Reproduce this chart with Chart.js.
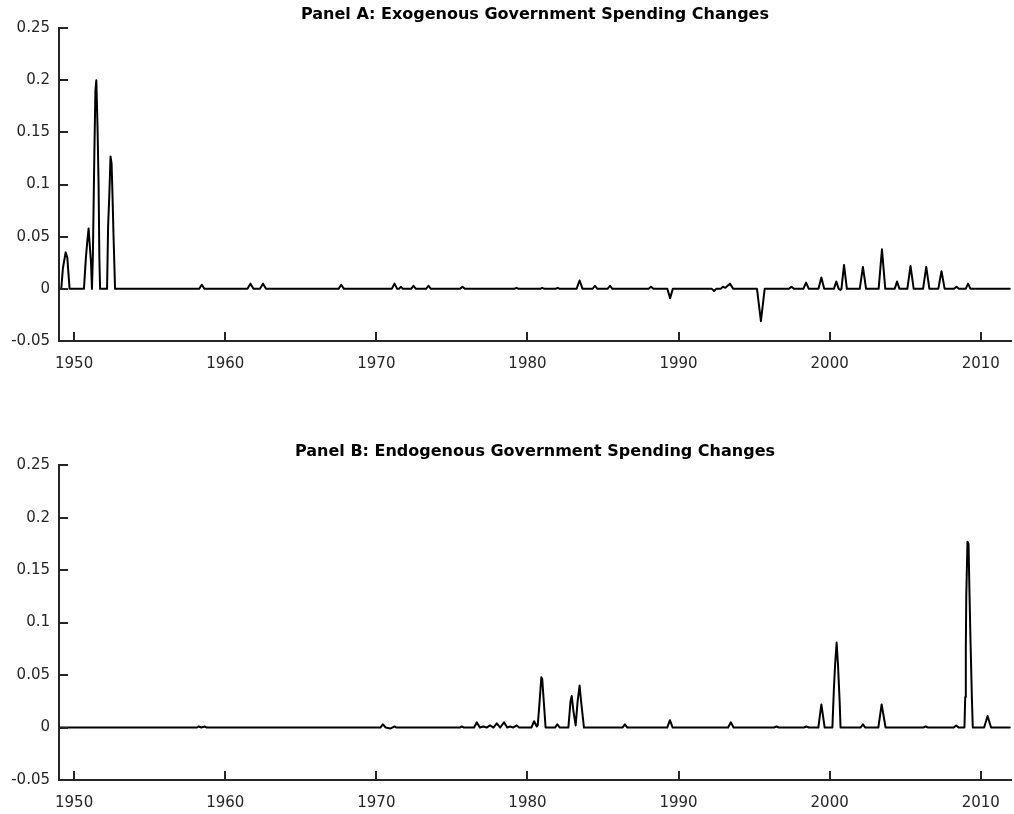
<!DOCTYPE html>
<html>
<head>
<meta charset="utf-8">
<script src="https://cdn.jsdelivr.net/npm/chart.js@4/dist/chart.umd.min.js"></script>
<style>
  html, body { margin: 0; padding: 0; background: #ffffff; }
  #wrap { position: relative; width: 1014px; height: 814px; }
  canvas { position: absolute; left: 0; }
  #ca { top: 0; }
  #cb { top: 437px; }
</style>
</head>
<body>
<div id="wrap">
  <canvas id="ca" width="1014" height="400"></canvas>
  <canvas id="cb" width="1014" height="377"></canvas>
</div>
<script>
// Axis ticks
const xTicks = [1950, 1960, 1970, 1980, 1990, 2000, 2010];
const yTicks = [-0.05, 0, 0.05, 0.1, 0.15, 0.2, 0.25];
const yTickLabels = ['-0.05', '0', '0.05', '0.1', '0.15', '0.2', '0.25'];

// Panel A: exogenous government spending changes (date, value) vertices
const exoDates = [
  1949.00, 1949.15, 1949.26, 1949.44, 1949.55, 1949.70,
  1950.65, 1950.78, 1950.87, 1950.96, 1951.02, 1951.12, 1951.18,
  1951.24, 1951.29, 1951.34, 1951.41, 1951.47, 1951.55, 1951.62, 1951.67, 1951.72,
  1952.18, 1952.25, 1952.33, 1952.41, 1952.48, 1952.54, 1952.61, 1952.71,
  1958.27, 1958.45, 1958.63,
  1961.47, 1961.67, 1961.87, 1962.30, 1962.50, 1962.70,
  1967.50, 1967.68, 1967.86,
  1971.02, 1971.20, 1971.38, 1971.50, 1971.62, 1971.76,
  1972.30, 1972.46, 1972.62, 1973.29, 1973.45, 1973.61,
  1975.54, 1975.70, 1975.86,
  1979.13, 1979.27, 1979.41, 1980.84, 1980.98, 1981.12, 1981.86, 1982.00, 1982.14,
  1983.25, 1983.45, 1983.65, 1984.31, 1984.47, 1984.63, 1985.30, 1985.46, 1985.62,
  1988.02, 1988.18, 1988.34, 1989.26, 1989.44, 1989.62,
  1992.21, 1992.35, 1992.49, 1992.79, 1992.93, 1993.10, 1993.40, 1993.62,
  1995.19, 1995.45, 1995.70,
  1997.31, 1997.47, 1997.63, 1998.26, 1998.44, 1998.62, 1999.26, 1999.45, 1999.64,
  2000.28, 2000.44, 2000.60, 2000.72, 2000.78, 2000.95, 2001.14,
  2001.99, 2002.20, 2002.41, 2003.24, 2003.46, 2003.68,
  2004.30, 2004.46, 2004.62, 2005.14, 2005.35, 2005.56,
  2006.18, 2006.39, 2006.60, 2007.19, 2007.40, 2007.61,
  2008.23, 2008.39, 2008.55, 2009.00, 2009.16, 2009.32,
  2011.92
];
const exoValues = [
  0, 0, 0.020, 0.035, 0.030, 0,
  0, 0.030, 0.045, 0.058, 0.045, 0.025, 0,
  0.030, 0.080, 0.130, 0.190, 0.200, 0.155, 0.100, 0.030, 0,
  0, 0.060, 0.090, 0.127, 0.120, 0.090, 0.050, 0,
  0, 0.004, 0,
  0, 0.005, 0, 0, 0.005, 0,
  0, 0.004, 0,
  0, 0.005, 0, 0, 0.002, 0,
  0, 0.003, 0, 0, 0.003, 0,
  0, 0.002, 0,
  0, 0.001, 0, 0, 0.001, 0, 0, 0.001, 0,
  0, 0.008, 0, 0, 0.003, 0, 0, 0.003, 0,
  0, 0.002, 0, 0, -0.009, 0,
  0, -0.002, 0, 0, 0.002, 0.001, 0.005, 0,
  0, -0.031, 0,
  0, 0.002, 0, 0, 0.006, 0, 0, 0.011, 0,
  0, 0.007, 0, -0.001, 0, 0.023, 0,
  0, 0.021, 0, 0, 0.038, 0,
  0, 0.007, 0, 0, 0.022, 0,
  0, 0.021, 0, 0, 0.017, 0,
  0, 0.002, 0, 0, 0.005, 0,
  0
];

// Panel B: endogenous government spending changes (date, value) vertices
const endoDates = [
  1949.00,
  1958.12, 1958.25, 1958.42, 1958.63, 1958.78,
  1970.27, 1970.43, 1970.62, 1970.92, 1971.05, 1971.20, 1971.34,
  1975.52, 1975.66, 1975.80,
  1976.47, 1976.65, 1976.85, 1977.09, 1977.30, 1977.53, 1977.75, 1977.97, 1978.20,
  1978.45, 1978.66, 1978.85, 1979.05, 1979.29, 1979.45,
  1980.26, 1980.44, 1980.62, 1980.68, 1980.78, 1980.92, 1980.98, 1981.08, 1981.20,
  1981.82, 1981.98, 1982.14,
  1982.71, 1982.85, 1982.93, 1983.05, 1983.19, 1983.32, 1983.45, 1983.55, 1983.74,
  1986.29, 1986.45, 1986.61, 1989.25, 1989.43, 1989.61,
  1993.28, 1993.46, 1993.64, 1996.32, 1996.48, 1996.64, 1998.30, 1998.46, 1998.62,
  1999.25, 1999.45, 1999.67,
  2000.18, 2000.28, 2000.36, 2000.46, 2000.55, 2000.66, 2000.72,
  2002.04, 2002.20, 2002.36, 2003.22, 2003.44, 2003.70,
  2006.19, 2006.35, 2006.51, 2008.21, 2008.37, 2008.53,
  2008.92, 2008.97, 2009.01, 2009.04, 2009.12, 2009.19, 2009.25, 2009.32, 2009.41, 2009.47,
  2010.22, 2010.45, 2010.68,
  2011.92
];
const endoValues = [
  0,
  0, 0.001, 0, 0.001, 0,
  0, 0.003, 0, -0.001, 0, 0.001, 0,
  0, 0.001, 0,
  0, 0.005, 0, 0.001, 0, 0.002, 0, 0.004, 0,
  0.005, 0, 0.001, 0, 0.002, 0,
  0, 0.006, 0.001, 0.002, 0.020, 0.048, 0.046, 0.025, 0,
  0, 0.003, 0,
  0, 0.025, 0.030, 0.015, 0.002, 0.025, 0.040, 0.025, 0,
  0, 0.003, 0, 0, 0.007, 0,
  0, 0.005, 0, 0, 0.001, 0, 0, 0.001, 0,
  0, 0.022, 0,
  0, 0.037, 0.060, 0.081, 0.060, 0.025, 0,
  0, 0.003, 0, 0, 0.022, 0,
  0, 0.001, 0, 0, 0.002, 0,
  0, 0.029, 0.077, 0.125, 0.177, 0.175, 0.130, 0.083, 0.029, 0,
  0, 0.011, 0,
  0
];

const axisColor = '#262626';
const fontFamily = '"DejaVu Sans", "Liberation Sans", Arial, sans-serif';
const tickLen = 9;

// Draws tick marks pointing into the plot area at each scale tick
const inwardTicks = {
  id: 'inwardTicks',
  afterDraw(chart) {
    const { ctx, chartArea: a, scales: { x, y } } = chart;
    ctx.save();
    ctx.strokeStyle = axisColor;
    ctx.lineWidth = 2;
    ctx.beginPath();
    x.ticks.forEach(t => {
      const px = Math.round(x.getPixelForValue(t.value));
      ctx.moveTo(px, a.bottom);
      ctx.lineTo(px, a.bottom - tickLen);
    });
    y.ticks.forEach(t => {
      const py = Math.round(y.getPixelForValue(t.value));
      ctx.moveTo(a.left, py);
      ctx.lineTo(a.left + tickLen, py);
    });
    ctx.stroke();
    ctx.restore();
  }
};

function makePanel(canvasId, title, dates, values, xAxisHeight) {
  const points = dates.map((d, i) => ({ x: d, y: values[i] }));
  return new Chart(document.getElementById(canvasId), {
    type: 'scatter',
    data: {
      datasets: [{
        data: points,
        showLine: true,
        borderColor: '#000000',
        borderWidth: 2,
        borderJoinStyle: 'round',
        borderCapStyle: 'round',
        pointRadius: 0,
        tension: 0,
        fill: false
      }]
    },
    options: {
      responsive: false,
      animation: false,
      events: [],
      layout: { padding: { left: 0, right: 3, top: 0, bottom: 0 } },
      plugins: {
        legend: { display: false },
        tooltip: { enabled: false },
        title: {
          display: true,
          text: title,
          fullSize: false,
          color: '#000000',
          font: { family: fontFamily, size: 16, weight: 'bold' },
          padding: { top: 5, bottom: 4 }
        }
      },
      scales: {
        x: {
          type: 'linear',
          position: 'bottom',
          min: 1949,
          max: 2012,
          afterBuildTicks: s => { s.ticks = xTicks.map(v => ({ value: v })); },
          afterFit: s => { s.height = xAxisHeight; },
          grid: { display: false, drawTicks: false },
          border: { display: true, color: axisColor, width: 2 },
          ticks: {
            color: axisColor,
            font: { family: fontFamily, size: 15 },
            padding: 14,
            maxRotation: 0,
            autoSkip: false,
            callback: v => String(v)
          }
        },
        y: {
          type: 'linear',
          min: -0.05,
          max: 0.25,
          afterBuildTicks: s => { s.ticks = yTicks.map(v => ({ value: v })); },
          afterFit: s => { s.width = 59; },
          grid: { display: false, drawTicks: false },
          border: { display: true, color: axisColor, width: 2 },
          ticks: {
            color: axisColor,
            font: { family: fontFamily, size: 15 },
            padding: 9,
            autoSkip: false,
            callback: (v, i) => yTickLabels[i]
          }
        }
      }
    },
    plugins: [inwardTicks]
  });
}

makePanel('ca', 'Panel A: Exogenous Government Spending Changes', exoDates, exoValues, 59);
makePanel('cb', 'Panel B: Endogenous Government Spending Changes', endoDates, endoValues, 34);
</script>
</body>
</html>
